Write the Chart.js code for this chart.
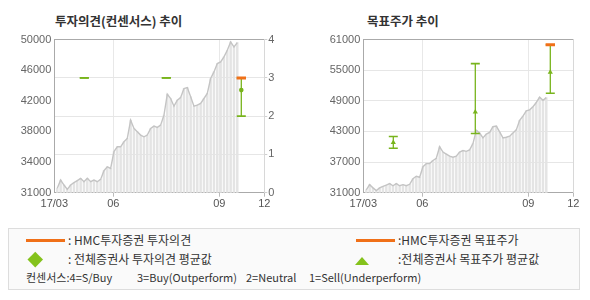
<!DOCTYPE html>
<html><head><meta charset="utf-8">
<script src="https://cdn.jsdelivr.net/npm/chart.js@4/dist/chart.umd.min.js"></script>
<style>
html,body{margin:0;padding:0;background:#fff;width:590px;height:300px;overflow:hidden;font-family:'Noto Sans CJK KR',sans-serif;}
.abs{position:absolute;white-space:pre;}
.title{font-weight:bold;font-size:12.5px;color:#333;line-height:14px;}
.lg{font-size:12px;color:#333;line-height:14px;}
.lg3{font-size:11px;color:#333;line-height:14px;}
#box{position:absolute;left:8px;top:228px;width:570px;height:60px;border:1px solid #ddd;background:#fafafa;}
.oline{position:absolute;height:3px;background:#f07018;width:39px;}
.diamond{position:absolute;width:10.5px;height:10.5px;background:#84c21c;transform:rotate(45deg);}
.tri{position:absolute;width:0;height:0;border-left:7.5px solid transparent;border-right:7.5px solid transparent;border-bottom:8px solid #84c21c;}
</style></head><body>
<div class="abs title" style="left:55px;top:14px">투자의견(컨센서스) 추이</div>
<div class="abs title" style="left:367px;top:14px">목표주가 추이</div>
<canvas id="c1" width="295" height="185" style="position:absolute;left:0;top:30px"></canvas>
<canvas id="c2" width="295" height="185" style="position:absolute;left:295px;top:30px"></canvas>
<div id="box"></div>
<div class="oline" style="left:26px;top:238.5px"></div>
<div class="abs lg" style="left:68px;top:233px">: HMC투자증권 투자의견</div>
<div class="diamond" style="left:29.7px;top:253.7px"></div>
<div class="abs lg" style="left:68px;top:252px">: 전체증권사 투자의견 평균값</div>
<div class="oline" style="left:356px;top:238.5px"></div>
<div class="abs lg" style="left:398px;top:233px">:HMC투자증권 목표주가</div>
<div class="tri" style="left:355.2px;top:256.5px"></div>
<div class="abs lg" style="left:398px;top:252px">:전체증권사 목표주가 평균값</div>
<div class="abs lg3" style="left:26px;top:270px">컨센서스:4=S/Buy</div>
<div class="abs lg3" style="left:137px;top:270px">3=Buy(Outperform)</div>
<div class="abs lg3" style="left:246px;top:270px">2=Neutral</div>
<div class="abs lg3" style="left:309px;top:270px">1=Sell(Underperform)</div>
<script>
// ---- data ----
const xTickPos = [0, 59, 165, 210];
const xTickLabels = ['17/03', '06', '09', '12'];
const priceStart = 3;
const priceStep = 10 / 3;
const priceValues = [31540,32570,31950,31420,31950,32240,32490,32780,32360,32780,32360,32570,32360,32650,33730,34220,34020,36100,36700,36700,37320,37740,40000,38970,38560,38150,37940,38150,38970,39260,39100,39380,40620,43230,42690,41740,42480,42810,43930,44050,42900,41740,41860,42070,42690,43310,45170,45990,47030,47230,47850,48680,49710,49090,49630];
const priceX = priceValues.map((_, i) => priceStart + i * priceStep);

const leftTickValues = [50000, 46200, 42400, 38600, 34800, 31000];
const leftTickLabels = ['50000', '46000', '42000', '38000', '34000', '31000'];
const opinionTickValues = [0, 1, 2, 3, 4];
const targetTickValues = [61000, 55000, 49000, 43000, 37000, 31000];

const reportX = [30, 112, 187];
const opinionMax = [3, 3, 3];
const opinionMin = [3, 3, 2];
const opinionAvg = [null, null, 2.68];
const hmcOpinion = [null, null, 3];

const targetMax = [42000, 56300, 60000];
const targetMin = [39700, 42600, 50500];
const targetAvg = [40850, 46800, 54600];
const hmcTarget = [null, null, 60000];

// ---- helpers ----
const GREEN = '#78b41c', ORANGE = '#f07018';
const tickFont = {family: "'Liberation Sans', Arial, sans-serif", size: 11};
const priceData = priceX.map((x, i) => ({x, y: priceValues[i]}));
function errLine(xs, mins, maxs) {
  const d = [];
  xs.forEach((x, i) => { d.push({x, y: mins[i]}, {x, y: maxs[i]}, {x, y: null}); });
  return d;
}
function pts(xs, vals) { return xs.map((x, i) => ({x, y: vals[i]})).filter(p => p.y !== null); }

function makeDatasets(axisId, mins, maxs, avg, hmc, avgStyle, avgRadius) {
  return [
    {type: 'scatter', data: pts(reportX, hmc), pointStyle: 'line', pointRadius: 4.7, borderColor: ORANGE, backgroundColor: ORANGE, borderWidth: 3, yAxisID: axisId, order: 0},
    {type: 'scatter', data: pts(reportX, avg), pointStyle: avgStyle, pointRadius: avgRadius, borderColor: GREEN, backgroundColor: GREEN, borderWidth: 0, yAxisID: axisId, order: 1},
    {type: 'scatter', data: pts(reportX, mins).concat(pts(reportX, maxs)), pointStyle: 'line', pointRadius: 4.5, borderColor: GREEN, backgroundColor: GREEN, borderWidth: 1.6, yAxisID: axisId, order: 2},
    {type: 'line', data: errLine(reportX, mins, maxs), borderColor: GREEN, borderWidth: 1.3, pointRadius: 0, spanGaps: false, yAxisID: axisId, order: 3},
    {type: 'line', data: priceData, borderColor: '#c4c4c4', borderWidth: 1.4, pointRadius: 0, tension: 0, yAxisID: 'y', order: 4},
    {type: 'bar', data: priceData, backgroundColor: '#e4e4e4', barThickness: 1.8, yAxisID: 'y', order: 5}
  ];
}

const xScale = (h) => ({
  type: 'linear', position: 'bottom', min: 0, max: 210, offset: false, z: 1,
  afterBuildTicks: a => { a.ticks = xTickPos.map(v => ({value: v})); },
  afterFit: a => { a.height = h; },
  ticks: {callback: (v) => xTickLabels[xTickPos.indexOf(v)], font: tickFont, color: '#555', padding: 1, maxRotation: 0, autoSkip: false},
  grid: {offset: false, color: c => (c.tick && (c.tick.value === 0 || c.tick.value === 210)) ? 'rgba(0,0,0,0)' : '#e8e8e8',
         tickColor: c => (c.tick && c.tick.value === 0) ? 'rgba(0,0,0,0)' : '#bbb', tickLength: 4},
  border: {color: '#aaa', width: 1}
});
const topScale = {
  type: 'linear', position: 'top', min: 0, max: 210, display: true,
  afterFit: a => { a.height = 0; },
  ticks: {display: false}, grid: {display: false, drawTicks: false}, border: {color: '#aaa', width: 1}
};

const common = {
  responsive: false, animation: false, events: [],
  plugins: {legend: {display: false}, tooltip: {enabled: false}, title: {display: false}}
};

new Chart(document.getElementById('c1'), {
  type: 'scatter',
  data: {datasets: makeDatasets('y1', opinionMin, opinionMax, opinionAvg, hmcOpinion, 'circle', 2.3)},
  options: Object.assign({}, common, {
    layout: {padding: {top: 9.3, left: 0, right: 0, bottom: 0}},
    scales: {
      x: xScale(22.3),
      x2: topScale,
      y: {
        position: 'left', min: 31000, max: 50000,
        afterBuildTicks: a => { a.ticks = leftTickValues.map(v => ({value: v})); },
        afterFit: a => { a.width = 54.3; },
        ticks: {callback: (v, i) => leftTickLabels[i], font: tickFont, color: '#666', padding: 3},
        grid: {drawOnChartArea: false, drawTicks: false},
        border: {color: '#aaa', width: 1}
      },
      y1: {
        position: 'right', min: 0, max: 4,
        afterBuildTicks: a => { a.ticks = opinionTickValues.map(v => ({value: v})); },
        afterFit: a => { a.width = 30.7; },
        ticks: {callback: v => String(v), font: tickFont, color: '#666', padding: 1},
        grid: {color: c => (c.tick && (c.tick.value === 0 || c.tick.value === 4)) ? 'rgba(0,0,0,0)' : '#e6e6e6', tickColor: '#d0d0d0', tickLength: 3},
        border: {color: '#d8d8d8', width: 1}
      }
    }
  })
});

new Chart(document.getElementById('c2'), {
  type: 'scatter',
  data: {datasets: makeDatasets('y', targetMin, targetMax, targetAvg, hmcTarget, 'triangle', 3)},
  options: Object.assign({}, common, {
    layout: {padding: {top: 9.3, left: 0, right: 16.7, bottom: 0}},
    scales: {
      x: xScale(22.3),
      x2: topScale,
      y: {
        position: 'left', min: 31000, max: 61000,
        afterBuildTicks: a => { a.ticks = targetTickValues.map(v => ({value: v})); },
        afterFit: a => { a.width = 68.3; },
        ticks: {callback: v => String(v), font: tickFont, color: '#666', padding: 3},
        grid: {color: c => (c.tick && (c.tick.value === 31000 || c.tick.value === 61000)) ? 'rgba(0,0,0,0)' : '#e6e6e6', drawTicks: false},
        border: {color: '#aaa', width: 1}
      },
      y2: {
        position: 'right', min: 0, max: 1, display: true,
        afterFit: a => { a.width = 0; },
        ticks: {display: false}, grid: {display: false, drawTicks: false},
        border: {color: '#d8d8d8', width: 1}
      }
    }
  })
});
</script>
</body></html>
